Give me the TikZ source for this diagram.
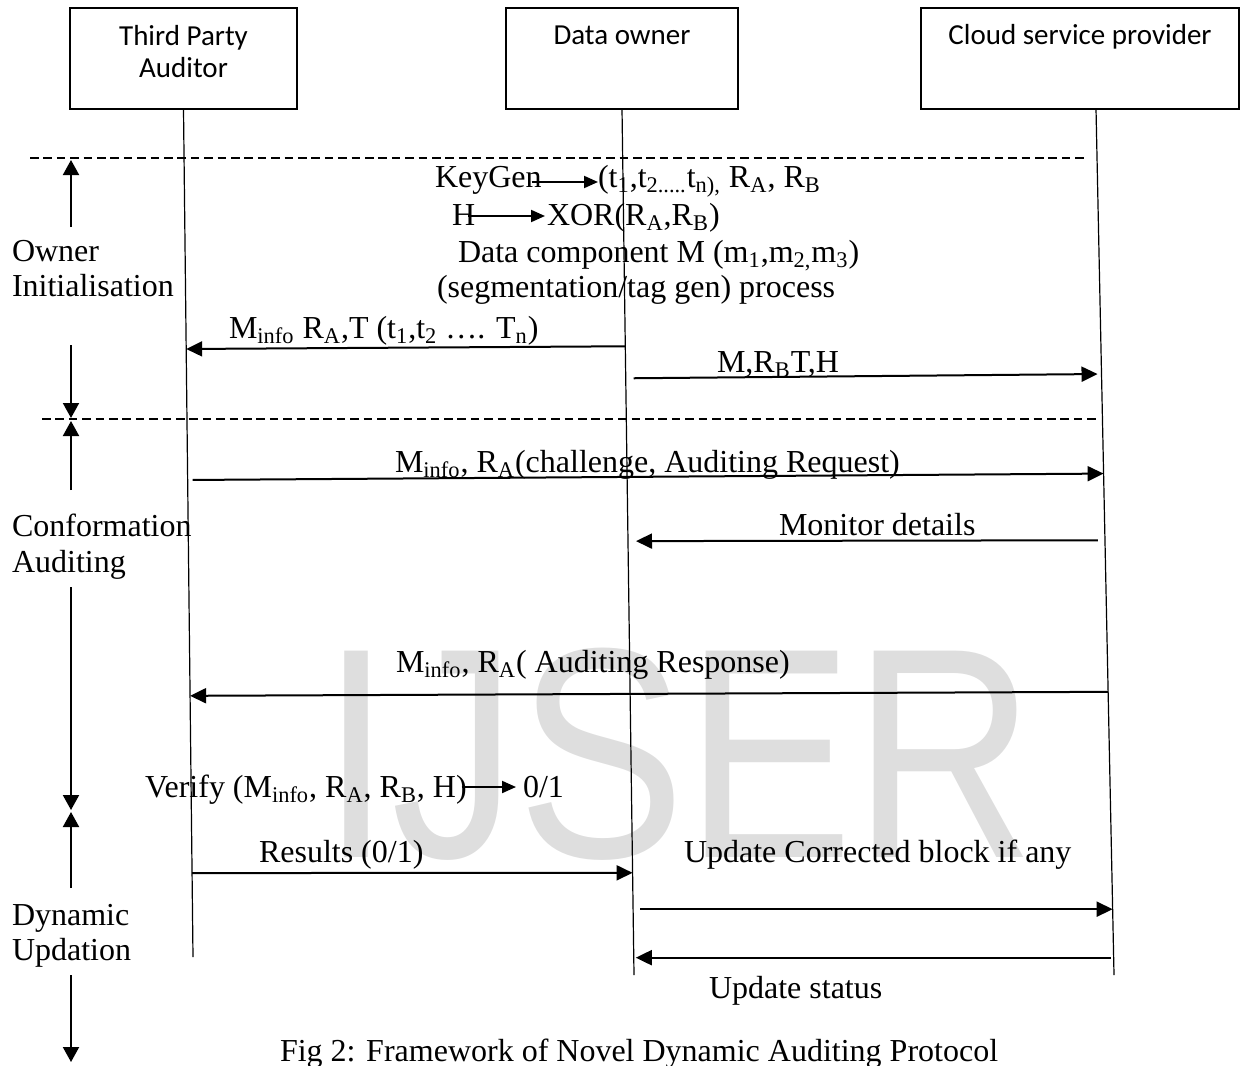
\documentclass[tikz,border=0pt]{standalone}
\usepackage{fontspec}
\setmainfont{Liberation Serif}
\newfontfamily\boxfont{Carlito}
\newfontfamily\markfont{Liberation Sans}
\usetikzlibrary{arrows.meta,calc}

\begin{document}
\begin{tikzpicture}[
        x=0.5pt, y=-0.5pt,
        >={Triangle[length=8pt,width=7.5pt]},
        every node/.style={inner sep=0pt, outer sep=0pt},
        txt/.style={font=\fontsize{16}{17.75}\selectfont, anchor=base west},
        party/.style={draw, line width=1pt, minimum height=50.5pt},
        partylabel/.style={font=\boxfont\fontsize{14.5}{16}\selectfont, align=center, anchor=base},
        lifeline/.style={line width=0.6pt},
        msg/.style={->, line width=1pt},
        inline/.style={-{Triangle[length=7pt,width=6pt]}, line width=1pt},
        phase/.style={line width=0.6pt, dash pattern=on 4.3pt off 2.4pt},
        phasearrow/.style={-{Triangle[length=7.5pt,width=8pt]}, line width=1pt},
        watermark/.style={font=\markfont\fontsize{150}{150}\selectfont, text=black!13, anchor=base west}
    ]
    \useasboundingbox (0,0) rectangle (1240,1065);

    % Watermark
    \node[watermark] (wm) at (321,857) {\scalebox{0.84}[1]{IJSER}};

    % Parties
    \node[party, minimum width=113.5pt] (tpa) at (183.5,58.5) {};
    \node[party, minimum width=116pt] (owner) at (622,58.5) {};
    \node[party, minimum width=159pt] (csp) at (1080,58.5) {};

    \node[partylabel, anchor=north] (tpaL) at ([yshift=-8.5pt]tpa.north) {Third Party\\Auditor};
    \node[partylabel] (ownerL) at ([yshift=-18.5pt]owner.north) {Data owner};
    \node[partylabel] (cspL) at ([yshift=-18.5pt]csp.north) {Cloud service provider};

    % Lifelines
    \coordinate (tpaEnd) at (193,957);
    \coordinate (ownerEnd) at (634,975);
    \coordinate (cspTop) at (1096,109);
    \coordinate (cspEnd) at (1114,975);
    \draw[lifeline] (tpa.south) -- (tpaEnd);
    \draw[lifeline] (owner.south) -- (ownerEnd);
    \draw[lifeline] (cspTop) -- (cspEnd);

    % Phase borders
    \draw[phase] (30,158) -- (1086,158);
    \draw[phase] (42,419) -- (1098,419);

    \foreach \ya/\yb in {227/160, 345/418, 490/421, 587/810, 888/812, 975/1062}
        \draw[phasearrow] (71,\ya) -- (71,\yb);

    \node[txt, align=left, anchor=north west] (owninit) at (12,240) {Owner\\Initialisation};
    \node[txt, align=left, anchor=north west] (confaud) at (12,514) {Conformation\\Auditing};
    \node[txt, align=left, anchor=north west] (dynupd) at (12,904) {Dynamic\\Updation};

    % Owner initialisation
    \node[txt] (keygen) at (435,187) {KeyGen};
    \node[txt] (tlist) at (598,187)
        {(t\textsubscript{1},t\textsubscript{2.....}t\textsubscript{n),} R\textsubscript{A}, R\textsubscript{B}};
    \draw[inline] ([shift={(-5pt,2.5pt)}]keygen.base east) -- ([yshift=2.5pt]tlist.base west);

    \node[txt] (hash) at (452,225) {H};
    \node[txt] (xor) at (547,225) {XOR(R\textsubscript{A},R\textsubscript{B})};
    \draw[inline] ([shift={(-3.5pt,4.5pt)}]hash.base east) -- ([shift={(-1pt,4.5pt)}]xor.base west);

    \node[txt] (comp) at (458,262) {Data component M (m\textsubscript{1},m\textsubscript{2,}m\textsubscript{3})};
    \node[txt] (seg) at (437,297) {(segmentation/tag gen) process};

    \node[txt] (m1) at (229,338)
        {M\textsubscript{info} R\textsubscript{A},T (t\textsubscript{1},t\textsubscript{2} …. T\textsubscript{n})};
    \draw[msg] ($(owner.south)!0.274!(ownerEnd)$) -- ($(tpa.south)!0.283!(tpaEnd)$);

    \node[txt] (m2) at (717,372) {M,R\textsubscript{B}T,H};
    \draw[msg, shorten <=4pt, shorten >=2pt] ($(owner.south)!0.311!(ownerEnd)$) -- ($(cspTop)!0.306!(cspEnd)$);

    % Conformation auditing
    \node[txt] (m3) at (395,472) {M\textsubscript{info}, R\textsubscript{A}(challenge, Auditing Request)};
    \draw[msg, shorten <=2.5pt] ($(tpa.south)!0.4375!(tpaEnd)$) -- ($(cspTop)!0.421!(cspEnd)$);

    \node[txt] (m4) at (779,535) {Monitor details};
    \draw[msg, shorten <=3.5pt, shorten >=4pt] ($(cspTop)!0.498!(cspEnd)$) -- ($(owner.south)!0.499!(ownerEnd)$);

    \node[txt] (m5) at (396,672) {M\textsubscript{info}, R\textsubscript{A}( Auditing Response)};
    \draw[msg] ($(cspTop)!0.673!(cspEnd)$) -- ($(tpa.south)!0.692!(tpaEnd)$);

    \node[txt] (verify) at (145,797) {Verify (M\textsubscript{info}, R\textsubscript{A}, R\textsubscript{B}, H)};
    \node[txt] (bit) at (523,797) {0/1};
    \draw[inline] ([shift={(-2.5pt,5pt)}]verify.base east) -- ([shift={(-3.5pt,5pt)}]bit.base west);

    % Dynamic updation
    \node[txt] (m6) at (259,862) {Results (0/1)};
    \draw[msg] ($(tpa.south)!0.901!(tpaEnd)$) -- ($(owner.south)!0.882!(ownerEnd)$);

    \node[txt] (m7) at (684,862) {Update Corrected block if any};
    \draw[msg, shorten <=3.5pt] ($(owner.south)!0.924!(ownerEnd)$) -- ($(cspTop)!0.924!(cspEnd)$);
    \draw[msg, shorten <=1.5pt, shorten >=1pt] ($(cspTop)!0.980!(cspEnd)$) -- ($(owner.south)!0.980!(ownerEnd)$);
    \node[txt] (m8) at (709,998) {Update status};

    \node[txt] (caption) at (280,1061) {Fig 2: Framework of Novel Dynamic Auditing Protocol};

\end{tikzpicture}
\end{document}
